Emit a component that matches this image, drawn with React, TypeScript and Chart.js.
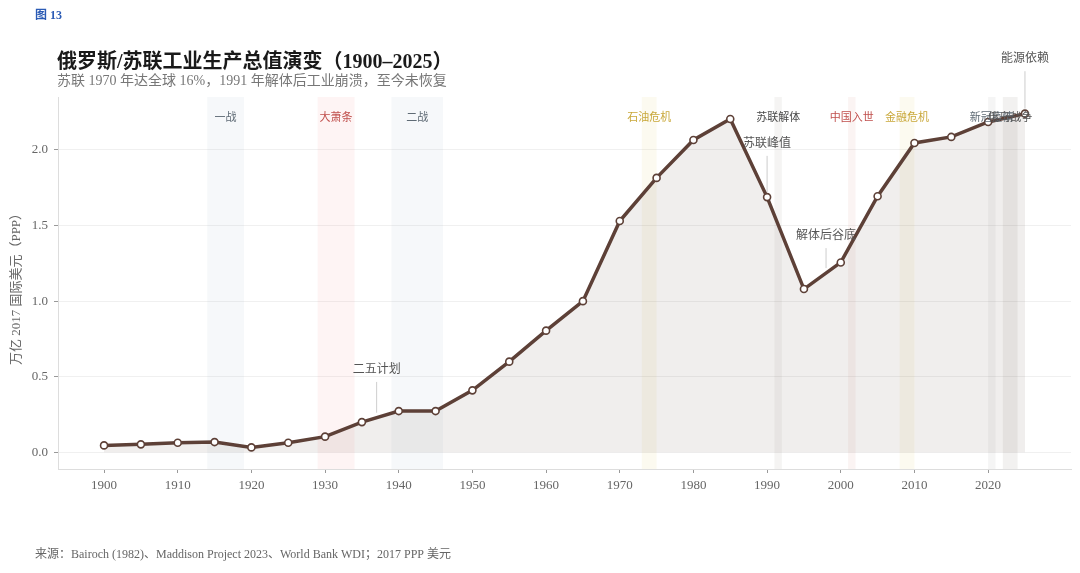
import React, { useEffect, useRef } from "react";
import { Chart, registerables } from "chart.js";

Chart.register(...registerables);

const years = [1900, 1905, 1910, 1915, 1920, 1925, 1930, 1935, 1940, 1945, 1950, 1955, 1960, 1965, 1970, 1975, 1980, 1985, 1990, 1995, 2000, 2005, 2010, 2015, 2020, 2025];
const output = [0.046, 0.053, 0.064, 0.068, 0.033, 0.064, 0.104, 0.2, 0.273, 0.273, 0.41, 0.6, 0.805, 1.0, 1.53, 1.815, 2.066, 2.205, 1.688, 1.08, 1.256, 1.694, 2.046, 2.086, 2.185, 2.24];

const xTickValues = [1900, 1910, 1920, 1930, 1940, 1950, 1960, 1970, 1980, 1990, 2000, 2010, 2020];
const yTickValues = [0, 0.5, 1.0, 1.5, 2.0];

const eventNames = ["一战", "大萧条", "二战", "石油危机", "苏联解体", "中国入世", "金融危机", "新冠疫情", "俄乌战争"];
const eventStarts = [1914, 1929, 1939, 1973, 1991, 2001, 2008, 2020, 2022];
const eventEnds = [1919, 1934, 1946, 1975, 1992, 2002, 2010, 2021, 2024];

const annotationTexts = ["二五计划", "苏联峰值", "解体后谷底", "能源依赖"];
const annotationYears = [1937, 1990, 1998, 2025];
const annotationLabelValues = [0.545, 2.04, 1.43, 2.6];

// styles (kept apart from data)
const eventFills = [
  "rgba(170,192,205,0.11)",
  "rgba(240,130,130,0.09)",
  "rgba(170,192,205,0.11)",
  "rgba(232,205,120,0.11)",
  "rgba(140,128,118,0.09)",
  "rgba(200,120,100,0.08)",
  "rgba(232,205,120,0.11)",
  "rgba(140,140,140,0.09)",
  "rgba(140,128,118,0.11)",
];
const eventTextColors = ["#5f6b75", "#c0504d", "#5f6b75", "#c9a83a", "#4a4a4a", "#c0504d", "#c9a83a", "#5f6b75", "#555555"];

const SERIF = "'Liberation Serif', 'DejaVu Serif', 'Noto Sans CJK SC', serif";
const LINE = "#5d4037";

function curveAt(year: number): number {
  for (let i = 0; i < years.length - 1; i++) {
    if (year >= years[i] && year <= years[i + 1]) {
      const t = (year - years[i]) / (years[i + 1] - years[i]);
      return output[i] + t * (output[i + 1] - output[i]);
    }
  }
  return output[output.length - 1];
}

const overlayPlugin = {
  id: "overlay",
  beforeDatasetsDraw(chart: any) {
    const { ctx, chartArea, scales } = chart;
    const xs = scales.x;
    ctx.save();
    for (let i = 0; i < eventNames.length; i++) {
      const x0 = xs.getPixelForValue(eventStarts[i]);
      const x1 = xs.getPixelForValue(eventEnds[i]);
      ctx.fillStyle = eventFills[i];
      ctx.fillRect(x0, chartArea.top, x1 - x0, chartArea.bottom - chartArea.top);
    }
    ctx.restore();
  },
  afterDatasetsDraw(chart: any) {
    const { ctx, chartArea, scales } = chart;
    const xs = scales.x;
    const ys = scales.y;
    ctx.save();
    ctx.font = `11px ${SERIF}`;
    ctx.textAlign = "center";
    ctx.textBaseline = "middle";
    for (let i = 0; i < eventNames.length; i++) {
      const xc = (xs.getPixelForValue(eventStarts[i]) + xs.getPixelForValue(eventEnds[i])) / 2;
      ctx.fillStyle = eventTextColors[i];
      ctx.fillText(eventNames[i], xc, chartArea.top + 21);
    }
    ctx.font = `12px ${SERIF}`;
    for (let i = 0; i < annotationTexts.length; i++) {
      const x = xs.getPixelForValue(annotationYears[i]);
      const ty = ys.getPixelForValue(annotationLabelValues[i]);
      const cy = ys.getPixelForValue(curveAt(annotationYears[i]));
      ctx.strokeStyle = "rgba(150,150,150,0.6)";
      ctx.lineWidth = 0.8;
      ctx.beginPath();
      ctx.moveTo(x, ty + 12);
      ctx.lineTo(x, cy - 5);
      ctx.stroke();
      ctx.fillStyle = "#555555";
      ctx.fillText(annotationTexts[i], x, ty);
    }
    ctx.restore();
  },
  afterDraw(chart: any) {
    const { ctx } = chart;
    ctx.save();
    ctx.textBaseline = "middle";
    ctx.textAlign = "left";
    ctx.fillStyle = "#2b5bb5";
    ctx.font = `bold 12px ${SERIF}`;
    ctx.fillText("图 13", 35, 16);
    ctx.fillStyle = "#1a1a1a";
    ctx.font = `bold 20px ${SERIF}`;
    ctx.fillText("俄罗斯/苏联工业生产总值演变（1900–2025）", 57, 63);
    ctx.fillStyle = "#777777";
    ctx.font = `14px ${SERIF}`;
    ctx.fillText("苏联 1970 年达全球 16%，1991 年解体后工业崩溃，至今未恢复", 57, 81);
    ctx.fillStyle = "#666666";
    ctx.font = `12px ${SERIF}`;
    ctx.fillText("来源：Bairoch (1982)、Maddison Project 2023、World Bank WDI；2017 PPP 美元", 35, 555);
    ctx.translate(17, 286);
    ctx.rotate(-Math.PI / 2);
    ctx.textAlign = "center";
    ctx.fillStyle = "#666666";
    ctx.font = `13px ${SERIF}`;
    ctx.fillText("万亿 2017 国际美元（PPP）", 0, 0);
    ctx.restore();
  },
};

export default function App() {
  const ref = useRef<HTMLCanvasElement>(null);
  useEffect(() => {
    if (!ref.current) return;
    const chart = new Chart(ref.current, {
      type: "line",
      data: {
        datasets: [
          {
            data: years.map((y, i) => ({ x: y, y: output[i] })),
            borderColor: LINE,
            borderWidth: 3.5,
            backgroundColor: "rgba(93,64,55,0.09)",
            fill: "origin",
            pointRadius: 3.5,
            pointBackgroundColor: "#ffffff",
            pointBorderColor: LINE,
            pointBorderWidth: 1.6,
            tension: 0,
          },
        ],
      },
      options: {
        responsive: false,
        animation: false,
        devicePixelRatio: 1,
        layout: { padding: { top: 97, right: 9, bottom: 0, left: 0 } },
        plugins: { legend: { display: false }, tooltip: { enabled: false } },
        scales: {
          x: {
            type: "linear",
            min: 1893.75,
            max: 2031.25,
            afterFit: (s: any) => {
              s.height = 104;
            },
            afterBuildTicks: (s: any) => {
              s.ticks = xTickValues.map((v) => ({ value: v }));
            },
            grid: { drawOnChartArea: false, drawTicks: true, tickLength: 4, tickColor: "#999999" },
            border: { color: "#dddddd" },
            ticks: { color: "#666666", font: { family: SERIF, size: 13 }, padding: 5, callback: (v: any) => String(v) },
          },
          y: {
            type: "linear",
            min: -0.11,
            max: 2.35,
            afterFit: (s: any) => {
              s.width = 58;
            },
            afterBuildTicks: (s: any) => {
              s.ticks = yTickValues.map((v) => ({ value: v }));
            },
            grid: { color: "#f0f0f0", drawTicks: true, tickLength: 4, tickColor: "#999999" },
            border: { color: "#dddddd" },
            ticks: { color: "#666666", font: { family: SERIF, size: 13 }, padding: 6, callback: (v: any) => Number(v).toFixed(1) },
          },
        },
      },
      plugins: [overlayPlugin],
    });
    return () => chart.destroy();
  }, []);
  return (
    <div style={{ position: "absolute", left: 0, top: 0, width: 1080, height: 573, background: "#ffffff" }}>
      <canvas ref={ref} width={1080} height={573} style={{ width: 1080, height: 573, display: "block" }} />
    </div>
  );
}
